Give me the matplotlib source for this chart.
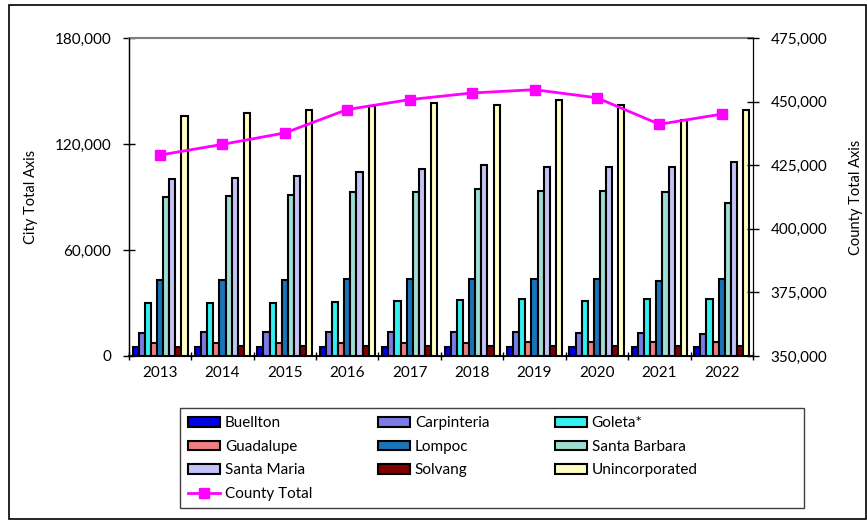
import matplotlib
matplotlib.use('Agg')
import matplotlib.pyplot as plt
import numpy as np
from matplotlib.ticker import FuncFormatter
from matplotlib.patches import Rectangle

years = ['2013', '2014', '2015', '2016', '2017', '2018', '2019', '2020', '2021', '2022']

buellton = [4900, 4950, 5000, 5050, 5100, 5100, 5150, 5150, 5100, 5100]
carpinteria = [13300, 13400, 13400, 13500, 13500, 13500, 13500, 13300, 13000, 12500]
goleta = [29900, 30000, 30200, 30800, 31300, 31500, 32300, 31300, 32300, 32300]
guadalupe = [7100, 7200, 7300, 7400, 7500, 7600, 7700, 8000, 8000, 8100]
lompoc = [42900, 43000, 43100, 43500, 43700, 43700, 43700, 43800, 42700, 43500]
santa_barbara = [89800, 90400, 91100, 92700, 92700, 94400, 93400, 93200, 92700, 86600]
santa_maria = [100300, 100800, 101900, 104000, 105900, 108200, 107100, 107100, 107100, 109600]
solvang = [5300, 5400, 5500, 5600, 5700, 5700, 5800, 5700, 5600, 5600]
unincorporated = [135700, 137300, 139200, 141800, 143400, 142000, 144700, 142000, 133500, 139500]
county_total = [429000, 433200, 437700, 446900, 450800, 453400, 454700, 451500, 441100, 445100]

cities = ['Buellton', 'Carpinteria', 'Goleta*', 'Guadalupe', 'Lompoc',
          'Santa Barbara', 'Santa Maria', 'Solvang', 'Unincorporated']
series = [buellton, carpinteria, goleta, guadalupe, lompoc,
          santa_barbara, santa_maria, solvang, unincorporated]
colors = ['#0000E6', '#7B7BE8', '#33F0F0', '#F08080', '#1A74B8',
          '#9EDDD3', '#C3C3F5', '#800000', '#FFFFC4']

plt.rcParams['font.family'] = ['Lato', 'DejaVu Sans']

fig = plt.figure(figsize=(8.67, 5.21), dpi=100)
ax = fig.add_axes([0.1486, 0.3167, 0.7199, 0.6103])

x = np.arange(len(years))
w = 0.098
bars = []
for i, (name, vals, c) in enumerate(zip(cities, series, colors)):
    b = ax.bar(x + (i - 4) * w, vals, w, color=c, edgecolor='black', linewidth=1.5, label=name)
    bars.append(b)

ax.set_xlim(-0.5, len(years) - 0.5)
ax.set_ylim(0, 180000)
ax.set_yticks([0, 60000, 120000, 180000])
ax.yaxis.set_major_formatter(FuncFormatter(lambda v, p: '{:,.0f}'.format(v)))
ax.set_xticks(x)
ax.set_xticklabels(years)
ax.set_xticks(np.arange(-0.5, len(years)), minor=True)
ax.tick_params(axis='x', which='major', length=0, labelsize=11, pad=7)
ax.tick_params(axis='x', which='minor', length=6, direction='inout', width=1)
ax.tick_params(axis='y', length=9, direction='inout', labelsize=11, width=1, pad=8)
ax.set_ylabel('City Total Axis', fontsize=10.5, labelpad=12)
ax.spines['top'].set_color('#808080')
ax.spines['top'].set_linewidth(1.5)
ax.spines['left'].set_linewidth(1)
ax.spines['bottom'].set_linewidth(1.3)

ax2 = ax.twinx()
line, = ax2.plot(x, county_total, color='#FF00FF', linewidth=2, marker='s',
                 markersize=7, label='County Total')
ax2.set_ylim(350000, 475000)
ax2.set_yticks([350000, 375000, 400000, 425000, 450000, 475000])
ax2.yaxis.set_major_formatter(FuncFormatter(lambda v, p: '{:,.0f}'.format(v)))
ax2.tick_params(axis='y', length=9, direction='inout', labelsize=11, width=1, pad=8)
ax2.set_ylabel('County Total Axis', fontsize=10.5, labelpad=16)
ax2.spines['top'].set_visible(False)

handles = [bars[0], bars[3], bars[6], line, bars[1], bars[4], bars[7], bars[2], bars[5], bars[8]]
labels = [h.get_label() for h in handles]
leg = fig.legend(handles, labels, ncol=3, loc='upper left',
                 bbox_to_anchor=(0.2076, 0.2169), borderaxespad=0,
                 prop={'size': 11}, frameon=False,
                 handlelength=2.1, handleheight=0.6, handletextpad=0.3,
                 columnspacing=4.3, labelspacing=0.62, borderpad=0.55)

# legend frame spans a fixed box like the original chart
fig.patches.append(Rectangle((180 / 867, 13 / 521), 624 / 867, 100 / 521, transform=fig.transFigure,
                             fill=False, edgecolor='#404040', linewidth=1))

fig.patches.append(Rectangle((9 / 867, 2 / 521), 857 / 867, 514 / 521, transform=fig.transFigure,
                             fill=False, edgecolor='black', linewidth=1.2))

plt.savefig('out.png', dpi=100)
